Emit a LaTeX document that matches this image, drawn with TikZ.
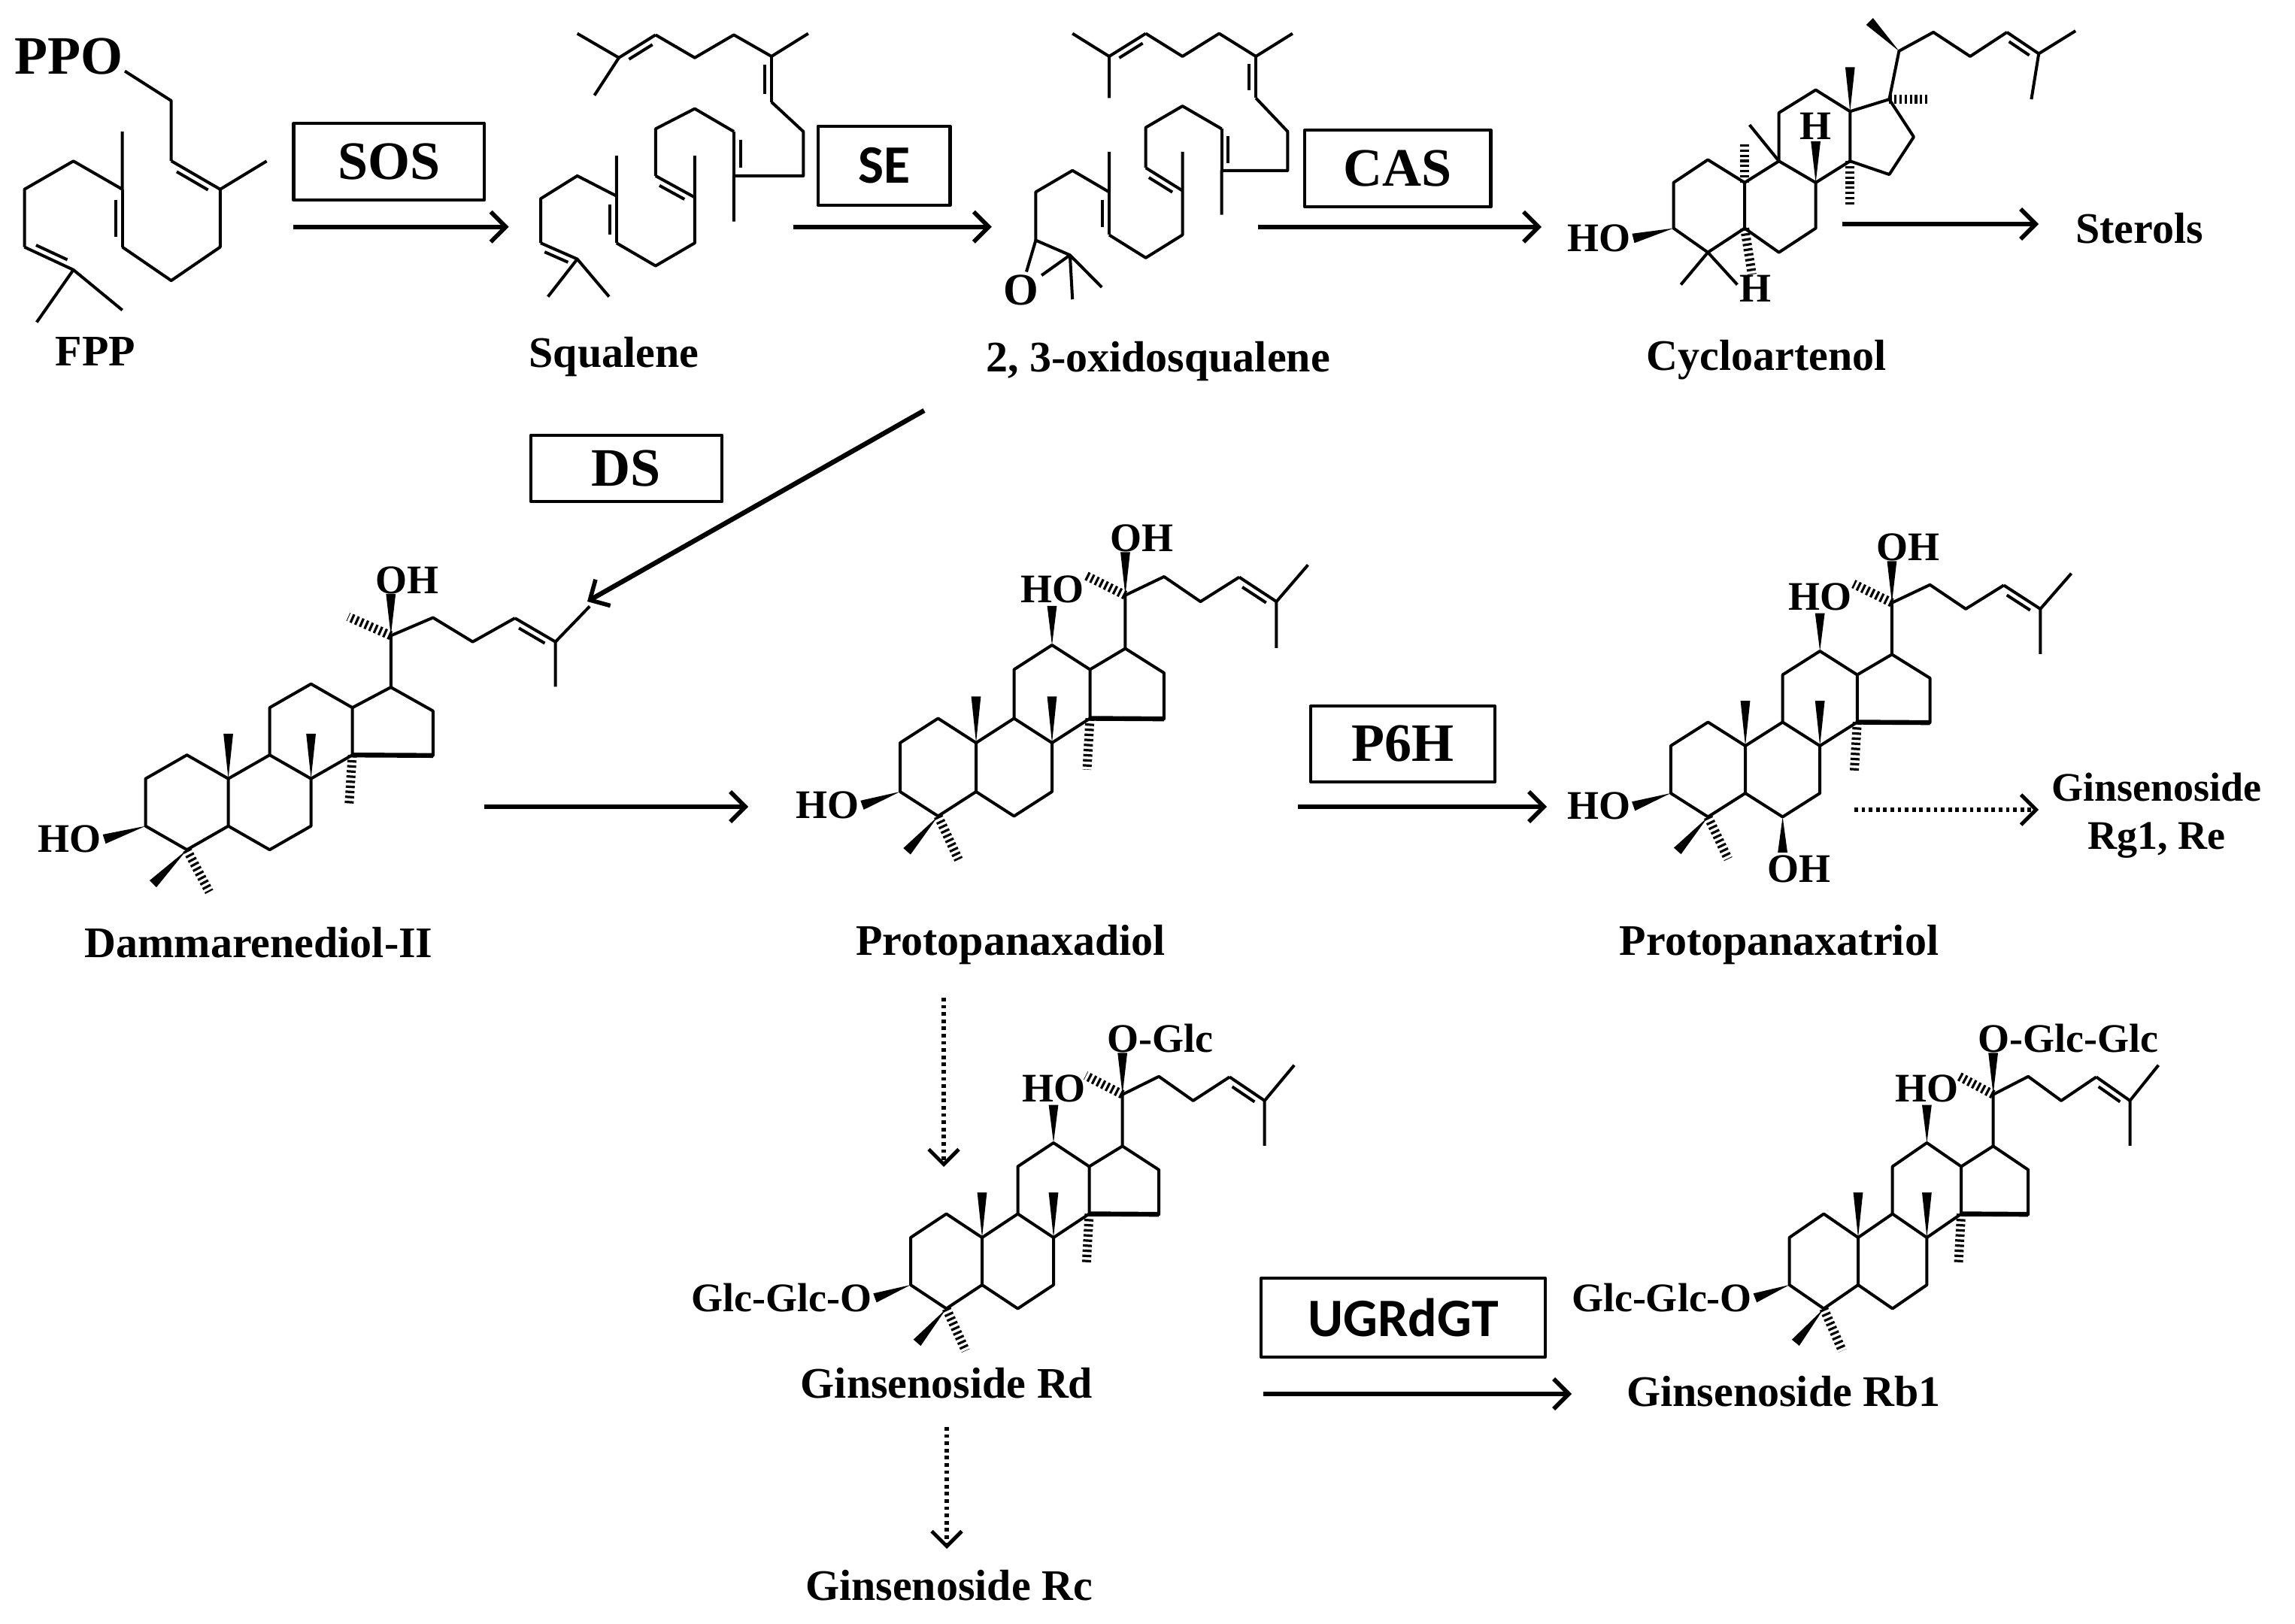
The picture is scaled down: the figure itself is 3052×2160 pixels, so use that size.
\documentclass[tikz,border=0pt]{standalone}
\usepackage{fontspec}
\setmainfont{Liberation Serif}
\newfontfamily\sansf{Carlito}
\usetikzlibrary{calc,arrows.meta}
\newcommand\wdg[2]{\fill (#1) -- ($(#2)!1.6pt!90:(#1)$) -- ($(#2)!1.6pt!-90:(#1)$) -- cycle;}
\newcommand\hsh[2]{\draw[line width=3pt,dash pattern=on 0.8pt off 0.9pt] (#1) -- (#2);}
\newcommand\dbl[3]{\draw (#1) -- (#2);
  \coordinate (dA) at ($(#1)!0.18!(#2)$); \coordinate (dB) at ($(#1)!0.82!(#2)$);
  \draw ($(dA)!2.2pt!#3:(#2)$) -- ($(dB)!2.2pt!-#3:(#1)$);}
% X Y u v C3text C20text C12OH C6OH prefix
\newcommand\steroid[9]{%
\begin{scope}[shift={(#1,#2)},xscale=#3,yscale=#4]
\coordinate (C10) at (0,0); \coordinate (A1) at (-2,0); \coordinate (A2) at (-1,-1);
\coordinate (C5) at (0,2); \coordinate (C4) at (-1,3); \coordinate (C3) at (-2,2);
\coordinate (C9) at (1,-1); \coordinate (C8) at (2,0); \coordinate (C7) at (2,2); \coordinate (C6) at (1,3);
\coordinate (C11) at (1,-3); \coordinate (C12) at (2,-4); \coordinate (C13) at (3,-3); \coordinate (C14) at (3,-1);
\coordinate (C17) at (3.93,-3.86); \coordinate (C16) at (4.95,-2.86); \coordinate (C15) at (4.95,-0.98);
\coordinate (M10) at (0,-1.9); \coordinate (M8) at (2,-1.9); \coordinate (M14) at (2.92,1.1);
\coordinate (O3) at (-3.0,2.55); \coordinate (M4a) at (-1.82,4.44); \coordinate (M4b) at (-0.46,4.78);
\coordinate (C20) at (3.93,-6.04); \coordinate (O20) at (3.93,-7.8); \coordinate (M20) at (2.9,-6.84);
\coordinate (S1) at (4.95,-6.8); \coordinate (S2) at (5.91,-5.78); \coordinate (S3) at (6.93,-6.78);
\coordinate (S4) at (7.91,-5.78); \coordinate (M25a) at (7.91,-3.88); \coordinate (M25b) at (8.74,-7.28);
\coordinate (O12) at (2,-5.6); \coordinate (O6) at (1,4.5);
\end{scope}
\draw (A1)--(A2)--(C10)--(C5)--(C4)--(C3)--cycle;
\draw (C10)--(C9)--(C8)--(C7)--(C6)--(C5);
\draw (C9)--(C11)--(C12)--(C13)--(C14)--(C8);
\draw (C13)--(C17)--(C16)--(C15)--(C14);
\draw[line width=1.6pt] (C14)--(C15);
\wdg{C10}{M10} \wdg{C8}{M8} \hsh{C14}{M14}
\wdg{C3}{O3} \wdg{C4}{M4a} \hsh{C4}{M4b}
\draw (C17)--(C20)--(S1)--(S2)--(S3);
\dbl{S3}{S4}{-90}
\draw (M25a)--(S4)--(M25b);
\wdg{C20}{O20} \hsh{C20}{M20}
\node[chem,anchor=east] (#9c3) at (O3) {#5};
\node[chem,anchor=south west,xshift=-6pt,yshift=-1pt] (#9c20) at (O20) {#6};
\ifnum#7=1 \wdg{C12}{O12} \node[chem,anchor=south] (#9c12) at (O12) {HO};\fi
\ifnum#8=1 \wdg{C6}{O6} \node[chem,anchor=north west,xshift=-6pt] (#9c6) at (O6) {OH};\fi
}
\begin{document}
\begin{tikzpicture}[x=0.25pt,y=-0.25pt,line width=1pt,line join=round,
  chem/.style={font=\fontsize{13.5}{15}\selectfont\bfseries,inner sep=0.5pt},
  lab/.style={font=\fontsize{14.5}{16}\selectfont\bfseries,inner sep=1pt},
  enz/.style={draw,line width=1.1pt,inner sep=0pt,font=\fontsize{18}{20}\selectfont\bfseries},
  arr/.style={line width=1.6pt,-{Straight Barb[length=5pt,width=10pt,line width=1.4pt]}},
  darr/.style={line width=1.3pt,dash pattern=on 1.2pt off 1.2pt,-{Straight Barb[length=5pt,width=10pt,line width=1.2pt]}}]
\useasboundingbox (0,0) rectangle (3052,2160);
% ---------- FPP
\node[chem,font=\fontsize{18}{20}\selectfont\bfseries] (ppo) at (91,75) {PPO};
\draw (166,94.6) -- (227.7,134) -- (227.7,214);
\dbl{227.7,214}{292.8,251.8}{-90}
\draw (354.6,214.3) -- (292.8,251.8) -- (292.8,328.6) -- (227.7,373.2) -- (162.7,328.6);
\dbl{162.7,328.6}{162.7,251.8}{90}
\draw (162.7,175) -- (162.7,251.8) -- (97.6,214.3) -- (32.5,251.8) -- (32.5,328.6);
\dbl{32.5,328.6}{97.6,358.9}{90}
\draw (48.8,428.6) -- (97.6,358.9) -- (162.7,412.5);
\node[lab] (fpp) at (126.9,467.9) {FPP};
% ---------- Squalene
\draw (728.7,394.6) -- (767.7,344.6) -- (810,394.6);
\dbl{767.7,344.6}{719,323.2}{90}
\draw (719,323.2) -- (719,264.3) -- (767.7,233.9) -- (819.8,260.7) -- (819.8,207.1);
\dbl{819.8,260.7}{819.8,323.2}{-90}
\draw (819.8,323.2) -- (871.8,353.6) -- (923.9,323.2) -- (923.9,262.5) -- (923.9,207.1);
\dbl{923.9,262.5}{871.8,233.9}{90}
\draw (871.8,233.9) -- (871.8,171.4) -- (923.9,144.6) -- (975.9,175);
\dbl{975.9,175}{975.9,233.9}{90}
\draw (975.9,294.6) -- (975.9,233.9) -- (1068.3,233.9) -- (1068.3,175) -- (1026,135.7);
\dbl{1026,135.7}{1026,75}{90}
\draw (1074.8,44.6) -- (1026,75) -- (975.9,46.4) -- (923.9,76.8) -- (871.8,46.4);
\dbl{871.8,46.4}{823,76.8}{90}
\draw (767.7,44.6) -- (823,76.8) -- (790.5,126.8);
\node[lab] (squ) at (816.5,475) {Squalene};
% ---------- 2,3-oxidosqualene
\node[chem,font=\fontsize{15}{16}\selectfont\bfseries] (epo) at (1357.8,385.7) {O};
\draw (epo) -- (1377.4,319.6) -- (1422.9,339.3) -- (epo);
\draw (1426.2,398.2) -- (1422.9,339.3) -- (1465.2,382.1);
\draw (1377.4,319.6) -- (1377.4,255.4) -- (1426.2,226.8) -- (1475,255.4) -- (1475,201.8);
\dbl{1475,255.4}{1475,312.5}{-90}
\draw (1475,312.5) -- (1523.7,342.9) -- (1572.5,312.5) -- (1572.5,253.6) -- (1572.5,201.8);
\dbl{1572.5,253.6}{1523.7,223.2}{90}
\draw (1523.7,223.2) -- (1523.7,169.6) -- (1572.5,141.1) -- (1624.6,171.4);
\dbl{1624.6,171.4}{1624.6,226.8}{90}
\draw (1624.6,285.7) -- (1624.6,226.8) -- (1712.4,226.8) -- (1712.4,175) -- (1670.1,130.4);
\dbl{1670.1,130.4}{1670.1,75}{90}
\draw (1718.9,44.6) -- (1670.1,75) -- (1621.3,44.6) -- (1572.5,75) -- (1523.7,44.6);
\dbl{1523.7,44.6}{1475,75}{90}
\draw (1426.2,44.6) -- (1475,75) -- (1475,130.4);
\node[lab] (oxs) at (1540,480.4) {2, 3-oxidosqualene};
% ---------- Cycloartenol
\draw (2225.6,242.9) -- (2271.2,212.5) -- (2320.1,242.9) -- (2320.1,303.6) -- (2271.2,335.7) -- (2225.6,303.6) -- cycle;
\draw (2320.1,242.9) -- (2365.7,214.3) -- (2414.6,242.9) -- (2414.6,303.6) -- (2365.7,335.7) -- (2320.1,303.6);
\draw (2365.7,214.3) -- (2365.7,150) -- (2414.6,119.6) -- (2460.3,148.2) -- (2460.3,214.3) -- (2414.6,242.9);
\draw (2460.3,148.2) -- (2512.4,132.1) -- (2545,182.1) -- (2512.4,232.1) -- (2460.3,214.3);
\hsh{2320.1,242.9}{2320.1,189.3}
\draw (2365.7,214.3) -- (2326.6,166.1);
\wdg{2414.6,242.9}{2414.6,188}
\node[chem] (ch8) at (2414.6,168) {H};
\wdg{2460.3,148.2}{2460.3,89.3}
\hsh{2460.3,214.3}{2460.3,275}
\hsh{2512.4,132.1}{2564.6,132.1}
\draw (2512.4,132.1) -- (2525.4,67.9) -- (2571.1,42.9) -- (2620,75) -- (2668.9,42.9);
\wdg{2525.4,67.9}{2486.3,28.6}
\dbl{2668.9,42.9}{2711.2,71.4}{-90}
\draw (2760.1,41.1) -- (2711.2,71.4) -- (2701.4,132.1);
\wdg{2225.6,303.6}{2172,317}
\node[chem,anchor=east] (cho) at (2172,317) {HO};
\draw (2235.3,378.6) -- (2271.2,335.7) -- (2310.3,378.6);
\hsh{2320.1,303.6}{2329.9,365}
\node[chem] (ch5) at (2334,384) {H};
\node[lab] (cyc) at (2349,479) {Cycloartenol};
\node[lab] (ster) at (2845,304) {Sterols};
% ---------- steroids
\steroid{303.6}{1035.7}{55}{31.5}{HO}{OH}{0}{0}{dam}
\node[lab] (daml) at (344,1254) {Dammarenediol-II};
\steroid{1298}{988}{50.5}{32.5}{HO}{OH}{1}{0}{ppd}
\node[lab] (ppdl) at (1344,1257) {Protopanaxadiol};
\steroid{2321}{992}{49.6}{31.5}{HO}{OH}{1}{1}{ppt}
\node[lab] (pptl) at (2366,1257) {Protopanaxatriol};
\node[lab,align=center,font=\fontsize{13.5}{15}\selectfont\bfseries] (rg1) at (2868,1085) {Ginsenoside\\[1pt]Rg1, Re};
\steroid{1306}{1646}{47.5}{31.5}{Glc-Glc-O}{O-Glc}{1}{0}{rd}
\node[lab] (rdl) at (1259,1840) {Ginsenoside Rd};
\node[lab] (rcl) at (1262,2109) {Ginsenoside Rc};
\steroid{2471}{1646}{45.7}{31.5}{Glc-Glc-O}{O-Glc-Glc}{1}{0}{rb}
\node[lab] (rbl) at (2372,1851) {Ginsenoside Rb1};
% ---------- enzymes
\node[enz,minimum width=63.4pt,minimum height=25.5pt] (sos) at (517.2,215.2) {SOS};
\node[enz,minimum width=43.9pt,minimum height=26.3pt,font=\sansf\fontsize{18}{20}\selectfont\bfseries] (se) at (1175.6,220.5) {SE};
\node[enz,minimum width=61.8pt,minimum height=25.5pt] (cas) at (1858.8,224.1) {CAS};
\node[enz,minimum width=63.5pt,minimum height=22pt] (ds) at (833,623) {DS};
\node[enz,minimum width=61.2pt,minimum height=25.2pt] (p6h) at (1865.5,989.5) {P6H};
\node[enz,minimum width=94.5pt,minimum height=26.2pt,font=\sansf\fontsize{18}{20}\selectfont\bfseries] (ugt) at (1866,1752.5) {UGRdGT};
% ---------- arrows
\coordinate (a1s) at (390.4,301.8); \coordinate (a1e) at (676.6,301.8);
\coordinate (a2s) at (1055.3,301.8); \coordinate (a2e) at (1318.8,301.8);
\coordinate (a3s) at (1673.4,301.8); \coordinate (a3e) at (2050,301.8);
\coordinate (a4s) at (2450,298); \coordinate (a4e) at (2711,298);
\coordinate (a5s) at (1229,546); \coordinate (a5e) at (781,800);
\coordinate (a6s) at (644,1073); \coordinate (a6e) at (995,1073);
\coordinate (a7s) at (1726,1073); \coordinate (a7e) at (2057,1073);
\coordinate (a8s) at (2466,1077); \coordinate (a8e) at (2711,1077);
\coordinate (a9s) at (1255,1327); \coordinate (a9e) at (1255,1552);
\coordinate (a10s) at (1259,1898); \coordinate (a10e) at (1259,2060);
\coordinate (a11s) at (1680,1854); \coordinate (a11e) at (2090,1854);
\draw[arr] (a1s) -- (a1e);
\draw[arr] (a2s) -- (a2e);
\draw[arr] (a3s) -- (a3e);
\draw[arr] (a4s) -- (a4e);
\draw[arr] (a5s) -- (a5e);
\draw[arr] (a6s) -- (a6e);
\draw[arr] (a7s) -- (a7e);
\draw[darr] (a8s) -- (a8e);
\draw[darr] (a9s) -- (a9e);
\draw[darr] (a10s) -- (a10e);
\draw[arr] (a11s) -- (a11e);
\end{tikzpicture}
\end{document}
